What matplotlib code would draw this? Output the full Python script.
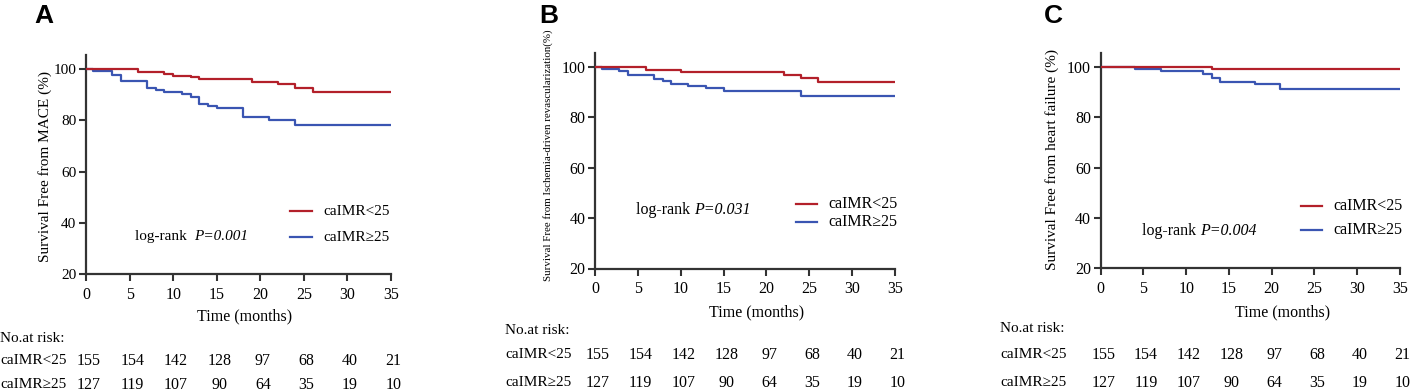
import matplotlib
matplotlib.use("Agg")
import matplotlib.pyplot as plt
from matplotlib.transforms import blended_transform_factory

plt.rcParams['font.family'] = ['Liberation Serif', 'DejaVu Serif']

# Panel A - MACE
a_t_low = [0, 6, 9, 10, 12, 13, 19, 22, 24, 26, 35]
a_s_low = [100, 98.9, 98.0, 97.3, 96.8, 96.0, 95.0, 94.0, 92.7, 91.1, 91.1]
a_t_high = [0, 0.8, 3, 4, 7, 8, 9, 11, 12, 13, 14, 15, 18, 21, 24, 35]
a_s_high = [100, 99.3, 97.7, 95.4, 92.8, 92.0, 91.1, 90.2, 89.2, 86.3, 85.5, 84.8, 81.4, 80.1, 78.1, 78.1]

# Panel B - ischemia-driven revascularization
b_t_low = [0, 6, 10, 22, 24, 26, 35]
b_s_low = [100, 98.9, 98.0, 97.0, 95.8, 94.1, 94.1]
b_t_high = [0, 0.8, 2.8, 3.9, 6.9, 7.9, 8.9, 10.9, 13, 15, 24, 35]
b_s_high = [100, 99.3, 98.3, 96.8, 95.3, 94.3, 93.5, 92.6, 91.7, 90.6, 88.5, 88.5]

# Panel C - heart failure
c_t_low = [0, 13, 35]
c_s_low = [100, 99.2, 99.2]
c_t_high = [0, 4, 7, 12, 13, 14, 18, 21, 35]
c_s_high = [100, 99.2, 98.3, 97.2, 95.5, 94.2, 93.1, 91.5, 91.5]

# numbers at risk (same in all panels)
risk_times = [0, 5, 10, 15, 20, 25, 30, 35]
risk_low = [155, 154, 142, 128, 97, 68, 40, 21]
risk_high = [127, 119, 107, 90, 64, 35, 19, 10]

group_labels = ['caIMR<25', 'caIMR\u226525']
p_values = ['P=0.001', 'P=0.031', 'P=0.004']
ylabels = ['Survival Free from MACE (%)',
           'Survival Free from Ischemia-driven revascularization(%)',
           'Survival Free from heart failure (%)']
letters = ['A', 'B', 'C']

RED = '#B3202A'
BLUE = '#3A55B2'
DARK = '#333333'

W, H = 1422, 392
fig = plt.figure(figsize=(W / 100, H / 100), dpi=100)

# layout in pixels: left, right, y of 20, y of top (ylim 105.5)
layout = [
    dict(l=86, r=391, b=274.3, t=55, ylx=45, yly=166.5, ylfs=11, ytfs=11,
         tx=245, ty=316, risk_x=0, nar_y=338, r1=360.7, r2=385, letx=34,
         leg_y=(44.5, 34.4), lr=(5.6, 34.8), sep='log-rank  ', fs=11),
    dict(l=595, r=895, b=268.5, t=53.3, ylx=548, yly=155.5, ylfs=7.8, ytfs=11.5,
         tx=756.7, ty=312.7, risk_x=505, nar_y=330, r1=355, r2=383, letx=539,
         leg_y=(45.8, 38.6), lr=(4.8, 43.2), sep='log-rank ', fs=11.5),
    dict(l=1100.7, r=1400, b=268.3, t=53.3, ylx=1052, yly=160, ylfs=11, ytfs=11.5,
         tx=1283, ty=312.7, risk_x=1000, nar_y=329, r1=355, r2=383, letx=1044,
         leg_y=(44.8, 35.3), lr=(4.8, 34.9), sep='log-rank ', fs=11.5),
]

curves = [
    (a_t_low, a_s_low, a_t_high, a_s_high),
    (b_t_low, b_s_low, b_t_high, b_s_high),
    (c_t_low, c_s_low, c_t_high, c_s_high),
]

for i, (lay, cur) in enumerate(zip(layout, curves)):
    ax = fig.add_axes([lay['l'] / W, 1 - lay['b'] / H,
                       (lay['r'] - lay['l']) / W, (lay['b'] - lay['t']) / H])
    t_low, s_low, t_high, s_high = cur
    ax.step(t_high, s_high, where='post', color=BLUE, lw=1.6, zorder=3)
    ax.step(t_low, s_low, where='post', color=RED, lw=1.6, zorder=4)

    ax.set_xlim(0, 35)
    ax.set_ylim(20, 105.5)
    ax.set_xticks(risk_times)
    ax.set_yticks([20, 40, 60, 80, 100])
    for s in ['top', 'right']:
        ax.spines[s].set_visible(False)
    for s in ['left', 'bottom']:
        ax.spines[s].set_color(DARK)
        ax.spines[s].set_linewidth(1.6)
    ax.tick_params(axis='both', direction='out', length=5, width=1.5, color=DARK,
                   pad=4)
    ax.tick_params(axis='x', labelsize=11.5)
    ax.tick_params(axis='y', labelsize=lay['ytfs'], pad=2)
    ax.margins(0)

    # legend drawn by hand
    for y, col, lab in zip(lay['leg_y'], [RED, BLUE], group_labels):
        ax.plot([23.4, 25.9], [y, y], color=col, lw=1.6, clip_on=False)
        ax.text(27.2, y, lab, fontsize=lay['fs'], va='center', ha='left')

    # log-rank text, P in italics
    t1 = ax.text(lay['lr'][0], lay['lr'][1], lay['sep'], fontsize=lay['fs'],
                 va='center', ha='left')
    ax.annotate(p_values[i], xy=(1, 0), xycoords=t1, va='bottom', ha='left',
                fontsize=lay['fs'], style='italic')

    fig.text(lay['ylx'] / W, 1 - lay['yly'] / H, ylabels[i], rotation=90,
             ha='center', va='center', fontsize=lay['ylfs'])
    fig.text(lay['tx'] / W, 1 - lay['ty'] / H, 'Time (months)',
             ha='center', va='center', fontsize=11.5)
    fig.text(lay['letx'] / W, 1 - 16 / H, letters[i], ha='left', va='center',
             fontsize=19, fontweight='bold', family='Liberation Sans')

    # risk table
    tr = blended_transform_factory(ax.transData, fig.transFigure)
    fig.text(lay['risk_x'] / W, 1 - lay['nar_y'] / H, 'No.at risk:',
             ha='left', va='center', fontsize=11)
    for row_y, lab, vals in [(lay['r1'], group_labels[0], risk_low),
                             (lay['r2'], group_labels[1], risk_high)]:
        fig.text(lay['risk_x'] / W, 1 - row_y / H, lab, ha='left', va='center',
                 fontsize=11)
        for tx, v in zip(risk_times, vals):
            ax.text(tx + 0.3, 1 - row_y / H, str(v), transform=tr, ha='center',
                    va='center', fontsize=11.5, clip_on=False)

fig.savefig('out.png', dpi=100)
